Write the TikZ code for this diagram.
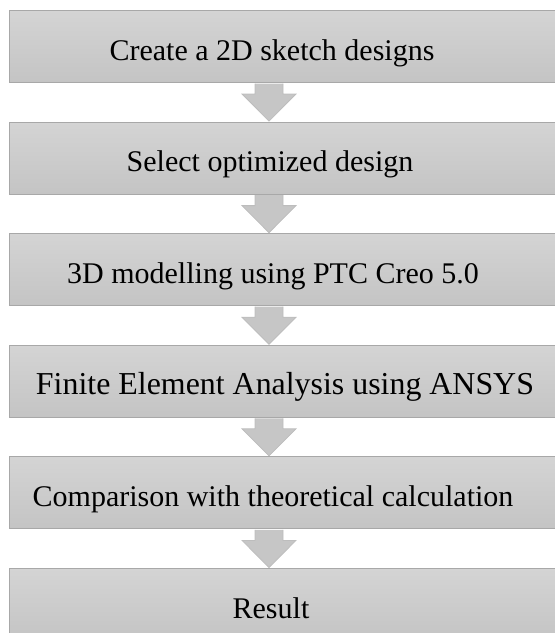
\documentclass[tikz,border=0pt]{standalone}
\usepackage{fontspec}
\setmainfont{Liberation Serif}
\usetikzlibrary{calc}
\definecolor{boxtop}{HTML}{D4D4D4}
\definecolor{boxbot}{HTML}{C4C4C4}
\definecolor{boxline}{HTML}{A8A8A8}
\definecolor{arrfill}{HTML}{C6C6C6}
\definecolor{arrline}{HTML}{BDBDBD}
\tikzset{
  stepbox/.style={rectangle, anchor=north west, minimum width=560pt, minimum height=72pt,
    inner sep=0pt, top color=boxtop, bottom color=boxbot, draw=boxline, line width=1pt},
  lbl/.style={anchor=base, inner sep=0pt, font=\fontsize{30}{36}\selectfont},
  blockarrow/.style={fill=arrfill, draw=arrline, line width=0.8pt, line join=miter}
}
\begin{document}
\begin{tikzpicture}[x=1pt,y=-1pt]
\useasboundingbox (0,0) rectangle (555,633);
\clip (0,0) rectangle (555,633);
\coordinate (ax) at (269,0);
% boxes
\node[stepbox] (b1) at (9,10) {};
\node[stepbox] (b2) at (9,121.6) {};
\node[stepbox] (b3) at (9,233.2) {};
\node[stepbox] (b4) at (9,344.8) {};
\node[stepbox] (b5) at (9,456.4) {};
\node[stepbox] (b6) at (9,568) {};
% labels
\node[lbl] (t1) at ($(b1.center -| 272,0)+(0,13.5)$) {Create a 2D sketch designs};
\node[lbl] (t2) at ($(b2.center -| 270,0)+(0,13.5)$) {Select optimized design};
\node[lbl] (t3) at ($(b3.center -| 273,0)+(0,13.5)$) {3D modelling using PTC Creo 5.0};
\node[lbl, font=\fontsize{31.9}{38}\selectfont] (t4) at ($(b4.center -| 285,0)+(0,13.5)$) {Finite Element Analysis using ANSYS};
\node[lbl] (t5) at ($(b5.center -| 273,0)+(0,13.5)$) {Comparison with theoretical calculation};
\node[lbl] (t6) at ($(b6.center -| 271,0)+(0,13.5)$) {Result};
% block arrows
\foreach \a/\b in {b1/b2,b2/b3,b3/b4,b4/b5,b5/b6}{
  \filldraw[blockarrow] ($(\a.south -| ax)+(-14,0.5)$) -- ++(0,10.5) -- ++(-13,0)
    -- ($(\b.north -| ax)+(0,-0.5)$) -- ($(\a.south -| ax)+(27,11)$) -- ++(-13,0) -- ++(0,-10.5);
}
\end{tikzpicture}
\end{document}
